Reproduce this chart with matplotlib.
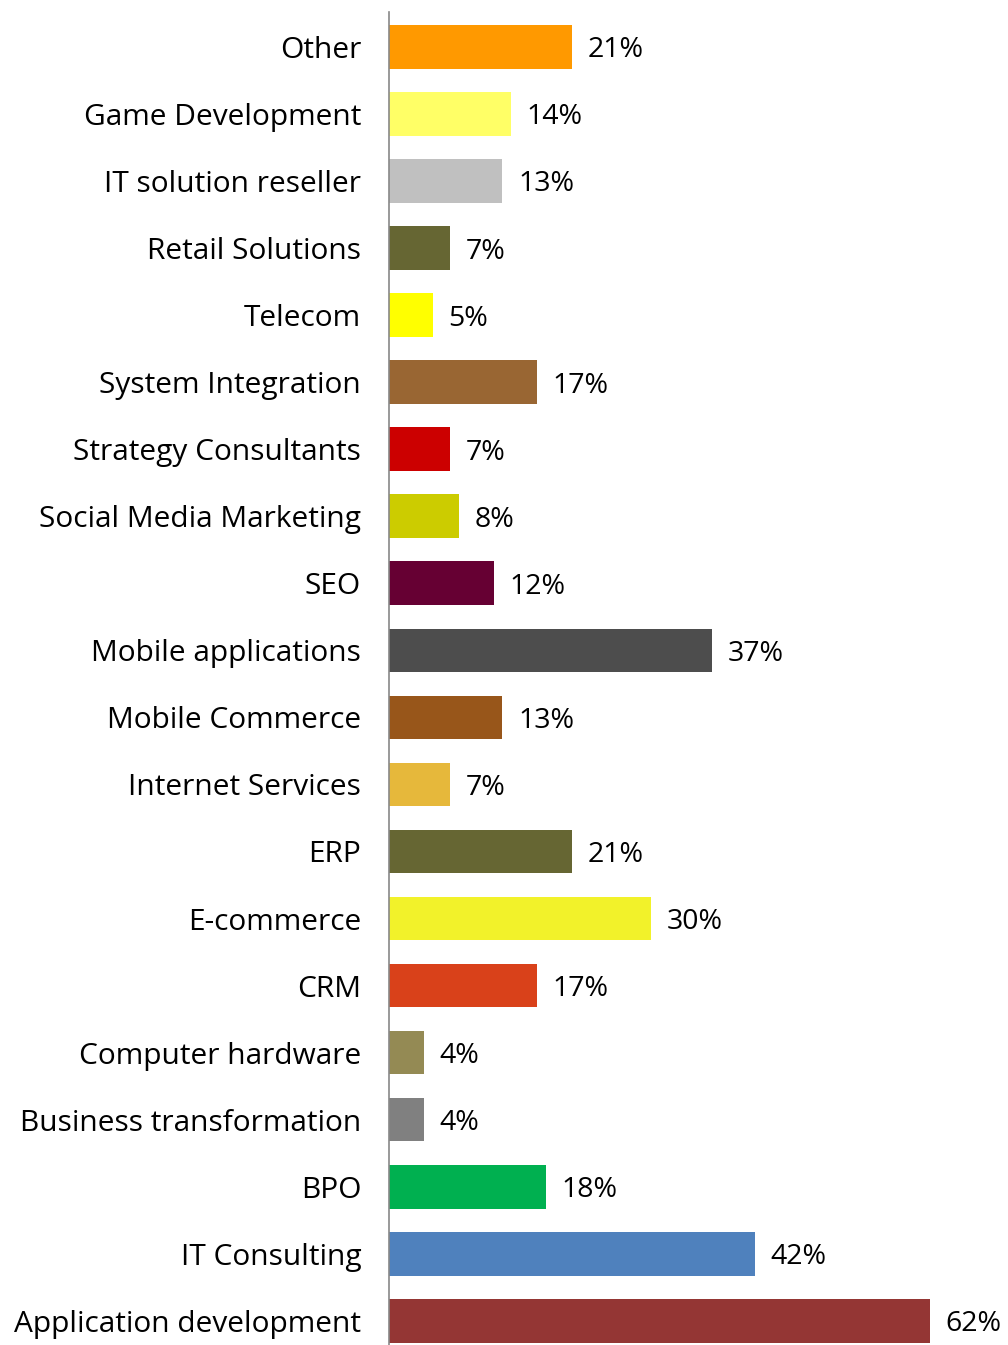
import matplotlib
matplotlib.use("Agg")
import matplotlib.pyplot as plt

categories = ["Application development", "IT Consulting", "BPO", "Business transformation",
              "Computer hardware", "CRM", "E-commerce", "ERP", "Internet Services",
              "Mobile Commerce", "Mobile applications", "SEO", "Social Media Marketing",
              "Strategy Consultants", "System Integration", "Telecom", "Retail Solutions",
              "IT solution reseller", "Game Development", "Other"]
values = [62, 42, 18, 4, 4, 17, 30, 21, 7, 13, 37, 12, 8, 7, 17, 5, 7, 13, 14, 21]
colors = ["#943634", "#4F81BD", "#00B050", "#808080", "#948A54", "#D9411A", "#F2F22A",
          "#666633", "#E6B83B", "#98561A", "#4D4D4D", "#660033", "#CCCC00", "#CC0000",
          "#996633", "#FFFF00", "#666633", "#C0C0C0", "#FFFF66", "#FF9900"]

plt.rcParams['font.family'] = ['Open Sans', 'DejaVu Sans']

fig = plt.figure(figsize=(10.08, 13.45), dpi=100)
ax = fig.add_axes([389/1008, 0, 1 - 389/1008, 1 - 12/1345])

y = list(range(len(categories)))
ax.barh(y, values, height=0.65, color=colors)
for yi, v in zip(y, values):
    ax.text(v + 1.8, yi, f"{v}%", va="center_baseline", ha="left", fontsize=20.5, color="black")

ax.set_yticks(y)
ax.set_yticklabels(categories, fontsize=21.5)
ax.tick_params(axis="y", length=0, pad=20)
ax.set_xticks([])
ax.set_xlim(0, 71)
ax.set_ylim(-0.36, 19.52)
for s in ["top", "right", "bottom"]:
    ax.spines[s].set_visible(False)
ax.spines["left"].set_color("#888888")
ax.spines["left"].set_linewidth(1.2)

fig.savefig("out.png", dpi=100)
